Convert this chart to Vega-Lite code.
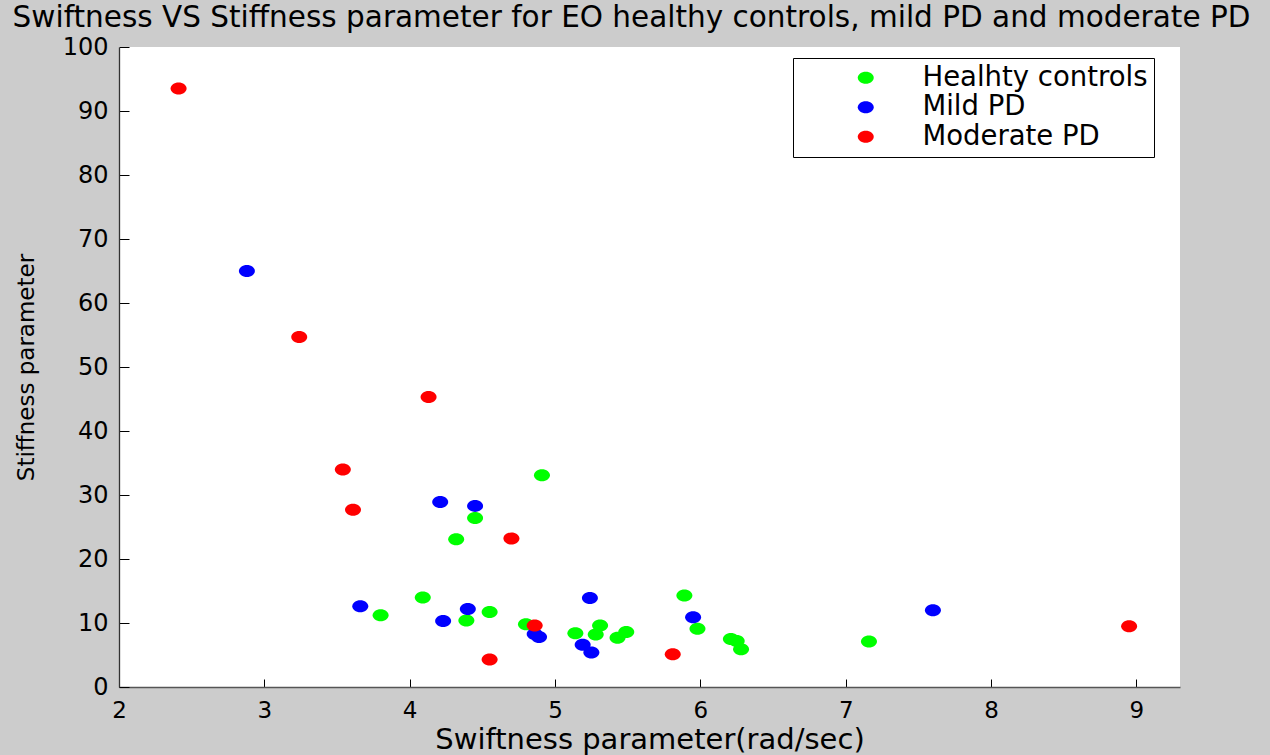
{
  "$schema": "https://vega.github.io/schema/vega-lite/v6.json",
  "width": 1061,
  "height": 640,
  "autosize": {"type": "none"},
  "padding": {"left": 119, "top": 47, "right": 90, "bottom": 68},
  "background": "#cccccc",
  "title": {
    "text": "Swiftness VS Stiffness parameter for EO healthy controls, mild PD and moderate PD",
    "font": "DejaVu Sans",
    "fontSize": 29.5,
    "fontWeight": "normal",
    "color": "#000000",
    "anchor": "middle",
    "baseline": "alphabetic",
    "offset": -21,
    "dx": -18
  },
  "data": {
    "values": [
      {"group": "Healhty controls", "swiftness": 3.80, "stiffness": 11.2},
      {"group": "Healhty controls", "swiftness": 4.09, "stiffness": 14.0},
      {"group": "Healhty controls", "swiftness": 4.32, "stiffness": 23.1},
      {"group": "Healhty controls", "swiftness": 4.45, "stiffness": 26.4},
      {"group": "Healhty controls", "swiftness": 4.39, "stiffness": 10.4},
      {"group": "Healhty controls", "swiftness": 4.55, "stiffness": 11.7},
      {"group": "Healhty controls", "swiftness": 4.91, "stiffness": 33.1},
      {"group": "Healhty controls", "swiftness": 4.80, "stiffness": 9.8},
      {"group": "Healhty controls", "swiftness": 5.14, "stiffness": 8.4},
      {"group": "Healhty controls", "swiftness": 5.28, "stiffness": 8.2},
      {"group": "Healhty controls", "swiftness": 5.31, "stiffness": 9.6},
      {"group": "Healhty controls", "swiftness": 5.43, "stiffness": 7.7},
      {"group": "Healhty controls", "swiftness": 5.49, "stiffness": 8.6},
      {"group": "Healhty controls", "swiftness": 5.89, "stiffness": 14.3},
      {"group": "Healhty controls", "swiftness": 5.98, "stiffness": 9.1},
      {"group": "Healhty controls", "swiftness": 6.21, "stiffness": 7.5},
      {"group": "Healhty controls", "swiftness": 6.25, "stiffness": 7.2},
      {"group": "Healhty controls", "swiftness": 6.28, "stiffness": 5.9},
      {"group": "Healhty controls", "swiftness": 7.16, "stiffness": 7.1},
      {"group": "Mild PD", "swiftness": 2.88, "stiffness": 65.0},
      {"group": "Mild PD", "swiftness": 3.66, "stiffness": 12.6},
      {"group": "Mild PD", "swiftness": 4.21, "stiffness": 28.9},
      {"group": "Mild PD", "swiftness": 4.45, "stiffness": 28.3},
      {"group": "Mild PD", "swiftness": 4.23, "stiffness": 10.3},
      {"group": "Mild PD", "swiftness": 4.40, "stiffness": 12.2},
      {"group": "Mild PD", "swiftness": 4.86, "stiffness": 8.3},
      {"group": "Mild PD", "swiftness": 4.89, "stiffness": 7.8},
      {"group": "Mild PD", "swiftness": 5.19, "stiffness": 6.6},
      {"group": "Mild PD", "swiftness": 5.24, "stiffness": 13.9},
      {"group": "Mild PD", "swiftness": 5.25, "stiffness": 5.4},
      {"group": "Mild PD", "swiftness": 5.95, "stiffness": 10.9},
      {"group": "Mild PD", "swiftness": 7.60, "stiffness": 12.0},
      {"group": "Moderate PD", "swiftness": 2.41, "stiffness": 93.5},
      {"group": "Moderate PD", "swiftness": 3.24, "stiffness": 54.7},
      {"group": "Moderate PD", "swiftness": 3.54, "stiffness": 34.0},
      {"group": "Moderate PD", "swiftness": 3.61, "stiffness": 27.7},
      {"group": "Moderate PD", "swiftness": 4.13, "stiffness": 45.3},
      {"group": "Moderate PD", "swiftness": 4.70, "stiffness": 23.2},
      {"group": "Moderate PD", "swiftness": 4.55, "stiffness": 4.3},
      {"group": "Moderate PD", "swiftness": 4.86, "stiffness": 9.6},
      {"group": "Moderate PD", "swiftness": 5.81, "stiffness": 5.1},
      {"group": "Moderate PD", "swiftness": 8.95, "stiffness": 9.5}
    ]
  },
  "mark": {
    "type": "point",
    "filled": true,
    "opacity": 1,
    "shape": "M-1,0A1,0.75,0,1,1,1,0A1,0.75,0,1,1,-1,0Z",
    "size": 256,
    "strokeWidth": 0
  },
  "encoding": {
    "x": {
      "field": "swiftness",
      "type": "quantitative",
      "scale": {"domain": [2, 9.3], "nice": false, "zero": false},
      "axis": {
        "values": [2, 3, 4, 5, 6, 7, 8, 9],
        "format": "d",
        "grid": false,
        "tickSize": -8,
        "tickColor": "#000000",
        "domainColor": "#555555",
        "domainWidth": 1.6,
        "labelFont": "DejaVu Sans",
        "labelFontSize": 23,
        "labelColor": "#000000",
        "labelPadding": 20,
        "labelFlush": false,
        "labelOverlap": false,
        "title": "Swiftness parameter(rad/sec)",
        "titleFont": "DejaVu Sans",
        "titleFontSize": 29,
        "titleFontWeight": "normal",
        "titleColor": "#000000",
        "titleBaseline": "alphabetic",
        "titleY": 61
      }
    },
    "y": {
      "field": "stiffness",
      "type": "quantitative",
      "scale": {"domain": [0, 100], "nice": false, "zero": true},
      "axis": {
        "values": [0, 10, 20, 30, 40, 50, 60, 70, 80, 90, 100],
        "format": "d",
        "grid": false,
        "tickSize": -10,
        "tickColor": "#000000",
        "domainColor": "#333333",
        "domainWidth": 1.3,
        "labelFont": "DejaVu Sans",
        "labelFontSize": 24,
        "labelColor": "#000000",
        "labelPadding": 21,
        "labelOverlap": false,
        "labelFlush": false,
        "title": "Stiffness parameter",
        "titleFont": "DejaVu Sans",
        "titleFontSize": 23,
        "titleFontWeight": "normal",
        "titleColor": "#000000",
        "titleBaseline": "alphabetic",
        "titleX": -86
      }
    },
    "color": {
      "field": "group",
      "type": "nominal",
      "scale": {
        "domain": ["Healhty controls", "Mild PD", "Moderate PD"],
        "range": ["#00ff00", "#0000ff", "#ff0000"]
      },
      "legend": {
        "orient": "none",
        "legendX": 674,
        "legendY": 11,
        "title": null,
        "strokeColor": "#000000",
        "fillColor": "#ffffff",
        "padding": 6,
        "symbolType": "M-1,0A1,0.75,0,1,1,1,0A1,0.75,0,1,1,-1,0Z",
        "symbolSize": 256,
        "symbolStrokeWidth": 0,
        "symbolOpacity": 1,
        "symbolOffset": 53,
        "labelOffset": 43,
        "labelFont": "DejaVu Sans",
        "labelFontSize": 27.5,
        "labelColor": "#000000",
        "labelLimit": 400,
        "rowPadding": 0.5
      }
    }
  },
  "config": {"view": {"fill": "#ffffff", "stroke": null}}
}
